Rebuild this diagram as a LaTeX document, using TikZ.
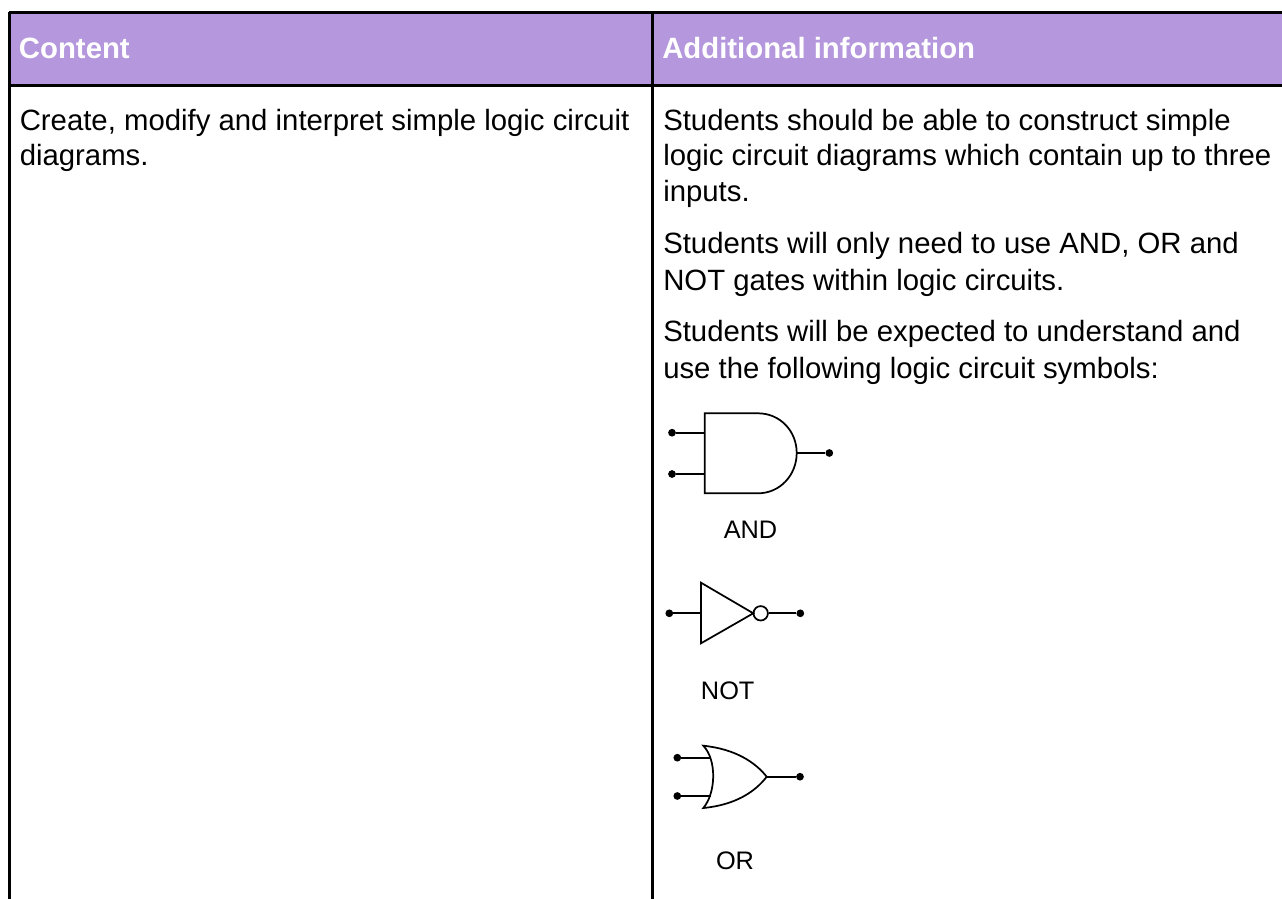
\documentclass[tikz,border=0pt]{standalone}
\usepackage{fontspec}
\setmainfont{Liberation Sans}
\definecolor{headpurple}{HTML}{B497DC}
\begin{document}
\begin{tikzpicture}[x=0.75pt,y=-0.75pt,
  rule/.style={line width=2.25pt,black},
  wire/.style={line width=1.4pt,black},
  gate/.style={line width=1.3pt,black,line join=miter,fill=white},
  pin/.style={circle,fill=black,draw=none,inner sep=0pt,minimum size=5.8pt},
  head/.style={anchor=base west,inner sep=0pt,text=white,font=\fontsize{22}{26}\selectfont\bfseries},
  body/.style={anchor=base west,inner sep=0pt,text=black,font=\fontsize{22}{26}\selectfont},
  tag/.style={anchor=base,inner sep=0pt,text=black,font=\fontsize{19}{23}\selectfont}]
\useasboundingbox (0,0) rectangle (1282,899);
\fill[white] (0,0) rectangle (1282,899);
\fill[headpurple] (9,13) rectangle (1282,86);
\draw[rule] (9,13) -- (1282,13);
\draw[rule] (9,86) -- (1282,86);
\draw[rule] (9,12) -- (9,899);
\draw[rule] (652,12) -- (652,899);
\node[head] (h1) at (18.7,58.3) {Content};
\node[head] (h2) at (662,58.3) {Additional information};
\node[body] (c1) at (19.5,130.7) {Create, modify and interpret simple logic circuit};
\node[body] (c2) at (19.5,166) {diagrams.};
\node[body] (a1) at (663,130.7) {Students should be able to construct simple};
\node[body] (a2) at (663,166) {logic circuit diagrams which contain up to three};
\node[body] (a3) at (663,201.7) {inputs.};
\node[body] (a4) at (663,253.3) {Students will only need to use AND, OR and};
\node[body] (a5) at (663,290) {NOT gates within logic circuits.};
\node[body] (a6) at (663,341.7) {Students will be expected to understand and};
\node[body] (a7) at (663,378) {use the following logic circuit symbols:};
% AND
\node[pin] (and-a) at (672,432.7) {};
\node[pin] (and-b) at (672,474) {};
\node[pin] (and-q) at (829.3,453) {};
\coordinate (and-ai) at (704.7,432.7);
\coordinate (and-bi) at (704.7,474);
\coordinate (and-o) at (796.7,453);
\draw[wire] (and-a) -- (and-ai);
\draw[wire] (and-b) -- (and-bi);
\draw[wire] (and-o) -- (and-q);
\draw[gate] (704.7,413.3) -- (758,413.3) .. controls (780,413.3) and (796.7,431) .. (796.7,453)
  .. controls (796.7,475) and (780,493.3) .. (758,493.3) -- (704.7,493.3) -- cycle;
\node[tag] (and-t) at (750.5,538.3) {AND};
% NOT
\node[pin] (not-a) at (669.3,613.3) {};
\node[pin] (not-q) at (800.3,613.3) {};
\coordinate (not-i) at (701,613.3);
\node[circle,draw=black,line width=1.3pt,fill=white,inner sep=0pt,minimum size=10.8pt] (not-c) at (760.7,613.3) {};
\draw[wire] (not-a) -- (not-i);
\draw[wire] (not-c) -- (not-q);
\draw[gate] (701,582.7) -- (753.3,613.3) -- (701,643.3) -- cycle;
\node[tag] (not-t) at (727.7,699.3) {NOT};
% OR
\node[pin] (or-a) at (677.3,757.7) {};
\node[pin] (or-b) at (677.3,796) {};
\node[pin] (or-q) at (800,776.7) {};
\coordinate (or-ai) at (711,757.7);
\coordinate (or-bi) at (711,796);
\coordinate (or-o) at (766.7,776.7);
\draw[wire] (or-a) -- (or-ai);
\draw[wire] (or-b) -- (or-bi);
\draw[wire] (or-o) -- (or-q);
\draw[gate,fill=none] (703.3,745.7) .. controls (735,749) and (755,762) .. (766.7,776.7)
  .. controls (755,792) and (735,805) .. (703.3,808)
  .. controls (716,793) and (717,760) .. (703.3,745.7) -- cycle;
\node[tag] (or-t) at (735,869.3) {OR};
\end{tikzpicture}
\end{document}
